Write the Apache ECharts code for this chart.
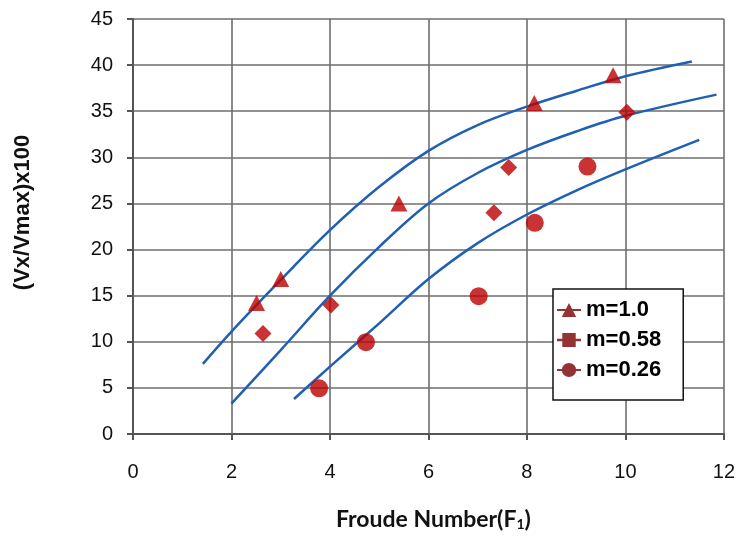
<!DOCTYPE html>
<html>
<head>
<meta charset="utf-8">
<script src="https://cdn.jsdelivr.net/npm/echarts@6/dist/echarts.min.js"></script>
<style>
html,body{margin:0;padding:0;background:#fff;}
#chart{width:738px;height:538px;}
</style>
</head>
<body>
<div id="chart"></div>
<script>
// Data
const xTicks = [0, 2, 4, 6, 8, 10, 12];
const yTicks = [0, 5, 10, 15, 20, 25, 30, 35, 40, 45];

const seriesNames = ['m=1.0', 'm=0.58', 'm=0.26'];

const m10X = [2.51, 3.0, 5.4, 8.15, 9.75];
const m10Y = [14.2, 16.8, 25.0, 35.9, 38.9];

const m058X = [2.64, 4.02, 7.33, 7.63, 10.03];
const m058Y = [10.9, 14.0, 24.0, 28.9, 34.9];

const m026X = [3.78, 4.73, 7.02, 8.16, 9.23];
const m026Y = [4.95, 9.95, 14.95, 22.9, 29.0];

// Fitted curves
const curveTopX = [1.42, 2, 3, 4, 5, 6, 7, 8, 9, 10, 11.35];
const curveTopY = [7.6, 11.1, 16.7, 22.1, 26.8, 30.7, 33.5, 35.5, 37.2, 38.8, 40.4];

const curveMidX = [2, 3, 4, 5, 6, 7, 8, 9, 10, 11.85];
const curveMidY = [3.3, 9.1, 15.0, 20.3, 25.0, 28.3, 30.8, 32.8, 34.5, 36.8];

const curveLowX = [3.27, 4, 5, 6, 7, 8, 9, 10, 11.5];
const curveLowY = [3.8, 7.3, 12.0, 16.8, 20.7, 23.8, 26.4, 28.7, 31.9];

function zip(xs, ys) { return xs.map((x, i) => [x, ys[i]]); }

const markColor = '#bb0000';
const legendColor = '#780000';
const curveColor = '#1f5fb4';
const FONT = 'Arial, "Liberation Sans", sans-serif';

const chart = echarts.init(document.getElementById('chart'), null, {renderer: 'canvas'});

function curve(xs, ys) {
  return {
    type: 'line',
    data: zip(xs, ys),
    smooth: 0.35,
    showSymbol: false,
    symbol: 'none',
    lineStyle: {color: curveColor, width: 2.5},
    silent: true,
    z: 2
  };
}

const option = {
  animation: false,
  backgroundColor: '#ffffff',
  grid: {left: 133, right: 12, top: 19, bottom: 104, containLabel: false},
  xAxis: {
    type: 'value',
    min: xTicks[0],
    max: xTicks[xTicks.length - 1],
    interval: 2,
    name: 'Froude Number(F{sub|1})',
    nameLocation: 'middle',
    nameGap: 74,
    nameTextStyle: {
      fontFamily: 'Lato', fontWeight: 'bold', fontSize: 23, color: '#111',
      padding: [0, 0, 0, 10],
      rich: {
        sub: {fontFamily: 'Lato', fontWeight: 'bold', fontSize: 14, color: '#111', verticalAlign: 'bottom', lineHeight: 12}
      }
    },
    axisLine: {show: true, lineStyle: {color: '#555', width: 2}},
    axisTick: {show: true, length: 6, inside: false, lineStyle: {color: '#555', width: 2}},
    axisLabel: {
      margin: 28, fontFamily: FONT, fontSize: 20, color: '#111',
      formatter: v => xTicks.includes(v) ? String(v) : ''
    },
    splitLine: {show: true, lineStyle: {color: '#6e6e6e', width: 1.6}}
  },
  yAxis: {
    type: 'value',
    min: yTicks[0],
    max: yTicks[yTicks.length - 1],
    interval: 5,
    name: '(Vx/Vmax)x100',
    nameLocation: 'middle',
    nameRotate: 90,
    nameGap: 99,
    nameTextStyle: {
      fontFamily: FONT, fontWeight: 'bold', fontSize: 22, color: '#111',
      padding: [0, 0, 0, 28]
    },
    axisLine: {show: true, lineStyle: {color: '#555', width: 2}},
    axisTick: {show: true, length: 6, lineStyle: {color: '#555', width: 2}},
    axisLabel: {
      margin: 20, fontFamily: FONT, fontSize: 20, color: '#111',
      formatter: v => yTicks.includes(v) ? String(v) : ''
    },
    splitLine: {show: true, lineStyle: {color: '#6e6e6e', width: 1.6}}
  },
  legend: {
    show: true,
    orient: 'vertical',
    left: 553,
    top: 289,
    padding: [10, 22, 19, 4],
    itemGap: 8,
    itemWidth: 24,
    itemHeight: 14,
    symbolKeepAspect: false,
    backgroundColor: '#ffffff',
    borderColor: '#111',
    borderWidth: 1.5,
    borderRadius: 0,
    textStyle: {fontFamily: FONT, fontWeight: 'bold', fontSize: 22, color: '#000', lineHeight: 22},
    data: [
      {name: seriesNames[0], icon: 'path://M0,42L100,42L100,58L0,58Z M50,0L80,100L20,100Z', itemStyle: {color: legendColor}},
      {name: seriesNames[1], icon: 'path://M0,42L100,42L100,58L0,58Z M22,8L78,8L78,92L22,92Z', itemStyle: {color: legendColor}},
      {name: seriesNames[2], icon: 'path://M0,42L100,42L100,58L0,58Z M20,50A30,50 0 1,1 80,50A30,50 0 1,1 20,50Z', itemStyle: {color: legendColor}}
    ]
  },
  series: [
    curve(curveTopX, curveTopY),
    curve(curveMidX, curveMidY),
    curve(curveLowX, curveLowY),
    {
      name: seriesNames[0], type: 'scatter', data: zip(m10X, m10Y),
      symbol: 'triangle', symbolSize: [17, 16],
      itemStyle: {color: markColor}, z: 3
    },
    {
      name: seriesNames[1], type: 'scatter', data: zip(m058X, m058Y),
      symbol: 'diamond', symbolSize: [17, 17],
      itemStyle: {color: markColor}, z: 3
    },
    {
      name: seriesNames[2], type: 'scatter', data: zip(m026X, m026Y),
      symbol: 'circle', symbolSize: 18,
      itemStyle: {color: markColor}, z: 3
    }
  ]
};

chart.setOption(option);
</script>
</body>
</html>
